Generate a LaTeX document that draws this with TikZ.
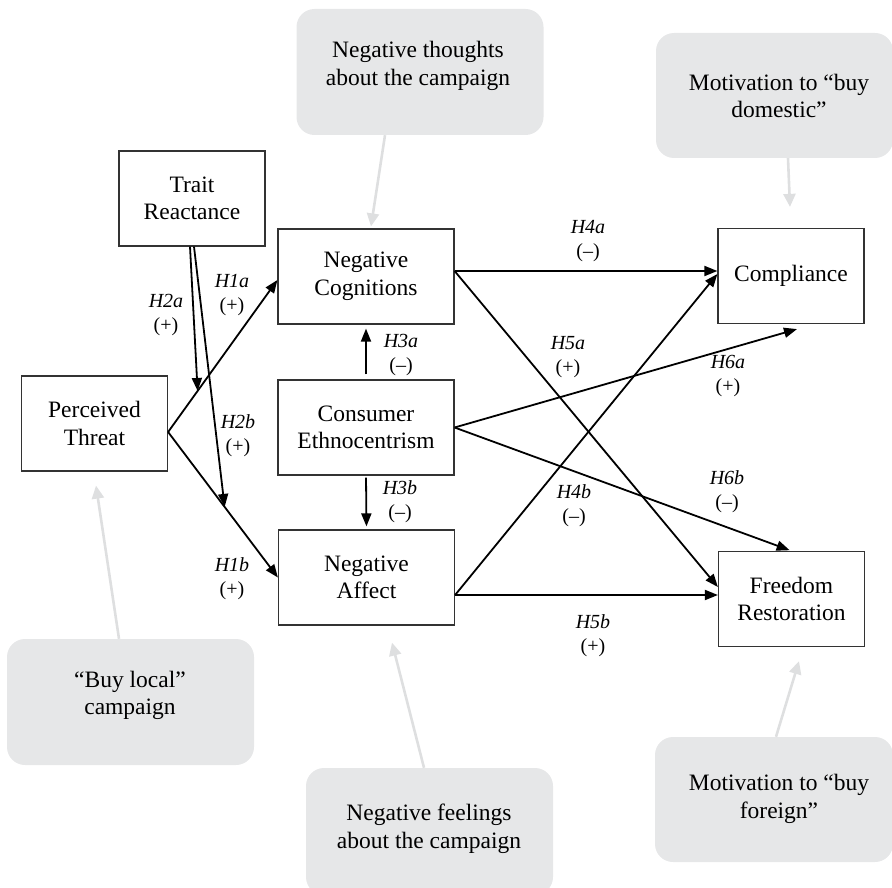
\documentclass[tikz,border=0pt]{standalone}
\usepackage{fontspec}
\setmainfont{Liberation Serif}
\usetikzlibrary{arrows.meta,calc}
\definecolor{gbfill}{HTML}{E6E7E8}
\definecolor{garrowc}{HTML}{DEDFE0}
\begin{document}
\begin{tikzpicture}[x=1pt,y=-1pt,
  box/.style={draw=black!80, line width=1.2pt, minimum height=95pt, inner sep=2pt, align=center, font=\fontsize{23.5}{27.5}\selectfont},
  sbox/.style={box, minimum width=146pt},
  wbox/.style={box, minimum width=176pt},
  graybox/.style={fill=gbfill, rounded corners=18pt, minimum width=247pt, minimum height=126pt, inner sep=0pt},
  ctext/.style={align=center, font=\fontsize{23.5}{27.5}\selectfont, inner sep=0pt},
  garrow/.style={draw=garrowc, line width=2.6pt, -{Triangle[length=13pt,width=12pt]}},
  barrow/.style={draw=black, line width=1.8pt, -{Triangle[length=13pt,width=10pt]}},
  hlab/.style={align=center, font=\fontsize{20}{24}\selectfont, inner sep=0pt}
]
\clip (0,0) rectangle (892,888);
% gray context boxes
\node[graybox] (thoughts) at (420,72) {};
\node[ctext] (thoughtsT) at (418,66) {Negative thoughts\\about the campaign};
\node[graybox, minimum width=237pt, minimum height=125pt] (domestic) at (774.5,95.5) {};
\node[ctext] (domesticT) at (779,96) {Motivation to “buy\\domestic”};
\node[graybox] (local) at (130.5,702) {};
\node[ctext] (localT) at (130,695.5) {“Buy local”\\campaign};
\node[graybox, minimum height=127pt] (feelings) at (429.5,831.5) {};
\node[ctext] (feelingsT) at (429,829) {Negative feelings\\about the campaign};
\node[graybox, minimum width=238pt, minimum height=125pt] (foreign) at (774,799.5) {};
\node[ctext] (foreignT) at (779,799) {Motivation to “buy\\foreign”};
% main boxes
\node[sbox] (TR) at (192,198.5) {Trait\\Reactance};
\node[sbox] (PT) at (94.5,423.5) {Perceived\\Threat};
\node[wbox] (NC) at (366,276.5) {Negative\\Cognitions};
\node[wbox] (CE) at (366,427.5) {Consumer\\Ethnocentrism};
\node[wbox] (NA) at (366.5,577.5) {Negative\\Affect};
\node[sbox] (C) at (791,276) {Compliance};
\node[sbox] (FR) at (791.5,599) {Freedom\\Restoration};
% gray arrows
\draw[garrow] ($(thoughts.south)+(-35,0)$) -- ($(NC.north)+(5,-2)$);
\draw[garrow] ($(domestic.south)+(13.5,0)$) -- ($(C.north)+(-1,-21)$);
\draw[garrow] ($(local.north)+(-11.5,0)$) -- ($(PT.south)+(1.5,14)$);
\draw[garrow] ($(feelings.north)+(-5.5,0)$) -- ($(NA.south)+(25.5,17)$);
\draw[garrow] ($(foreign.north)+(2,0)$) -- ($(FR.south)+(7.5,14)$);
% connection points
\coordinate (ptout) at ($(PT.east)+(0,8.5)$);
\coordinate (ncin) at ($(NC.west)+(0,3.5)$);
\coordinate (ncout) at ($(NC.east)+(0,-5.5)$);
\coordinate (naout) at ($(NA.east)+(0,17.5)$);
\coordinate (cin) at ($(C.west)+(0,-5)$);
\coordinate (cin2) at ($(C.west)+(0,-2)$);
\coordinate (frin) at ($(FR.west)+(0,-12)$);
\coordinate (frin2) at ($(FR.west)+(0,-4)$);
\coordinate (cbot) at ($(C.south)+(6,5)$);
\coordinate (trout1) at ($(TR.south)+(-2,0)$);
\coordinate (trout2) at ($(TR.south)+(2,0)$);
\path (ptout) -- coordinate[pos=0.27] (m1) (ncin);
\path (ptout) -- coordinate[pos=0.515] (m2) (NA.west);
% black arrows
\draw[barrow] (ptout) -- (ncin);
\draw[barrow] (ptout) -- (NA.west);
\draw[barrow] (trout1) -- (m1);
\draw[barrow] (trout2) -- (m2);
\draw[barrow, shorten <=5pt, shorten >=4pt] (CE.north) -- (NC.south);
\draw[barrow, shorten <=2pt, shorten >=3pt] (CE.south) -- (NA.north);
\draw[barrow] (ncout) -- (cin);
\draw[barrow] (ncout) -- (frin);
\draw[barrow] (naout) -- (cin2);
\draw[barrow] (naout) -- (frin2);
\draw[barrow] (CE.east) -- (cbot);
\draw[barrow, shorten >=2pt] (CE.east) -- (FR.north);
% labels
\node[hlab] (l2a) at (166,315.5) {\textit{H2a}\\(+)};
\node[hlab] (l1a) at (232,295.5) {\textit{H1a}\\(+)};
\node[hlab] (l2b) at (238,435.5) {\textit{H2b}\\(+)};
\node[hlab] (l1b) at (232,579) {\textit{H1b}\\(+)};
\node[hlab] (l3a) at (401,355) {\textit{H3a}\\(–)};
\node[hlab] (l3b) at (400,501.5) {\textit{H3b}\\(–)};
\node[hlab] (l4a) at (588,241.5) {\textit{H4a}\\(–)};
\node[hlab] (l5a) at (568,357.5) {\textit{H5a}\\(+)};
\node[hlab] (l6a) at (728,376.5) {\textit{H6a}\\(+)};
\node[hlab] (l4b) at (574,506) {\textit{H4b}\\(–)};
\node[hlab] (l6b) at (727,491.5) {\textit{H6b}\\(–)};
\node[hlab] (l5b) at (593,635.5) {\textit{H5b}\\(+)};
\end{tikzpicture}
\end{document}
